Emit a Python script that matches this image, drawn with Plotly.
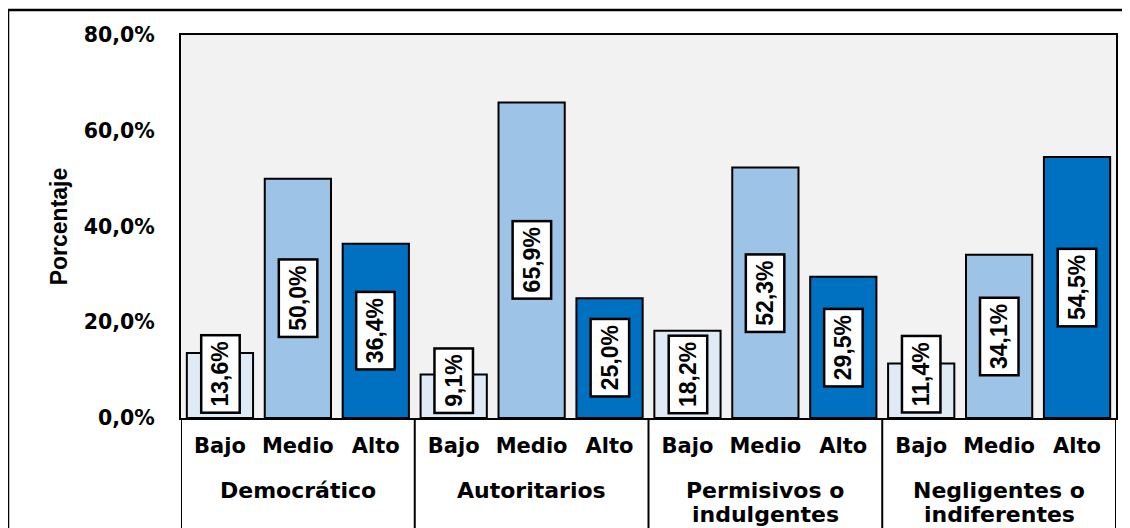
import plotly.graph_objects as go

groups = ["Democrático", "Autoritarios", "Permisivos o<br>indulgentes", "Negligentes o<br>indiferentes"]
levels = ["Bajo", "Medio", "Alto"]
bajo = [13.6, 9.1, 18.2, 11.4]
medio = [50.0, 65.9, 52.3, 34.1]
alto = [36.4, 25.0, 29.5, 54.5]
y_tickvals = [0, 20, 40, 60, 80]
y_ticktext = ["0,0%", "20,0%", "40,0%", "60,0%", "80,0%"]
level_colors = ["#DEEBF7", "#9DC3E6", "#0070C0"]

# page body has an 8px offset; figure sized to fill the 1130x528 window
OFF = 8
W, H = 1130 - OFF, 528 - OFF
L, R, T = 181 - OFF, 14, 35 - OFF
AX = 418 - OFF            # y pixel of x axis in figure coords
B = H - AX
PH = AX - T

WIDE = "DejaVu Sans, Verdana, sans-serif"
LAB = "Liberation Sans, Arial, sans-serif"

series = [bajo, medio, alto]
keys, vals, cols, ticktext = [], [], [], []
for gi, g in enumerate(groups):
    for li, lv in enumerate(levels):
        keys.append(f"{gi}-{lv}")
        vals.append(series[li][gi])
        cols.append(level_colors[li])
        ticktext.append(lv)

fig = go.Figure()
fig.add_trace(go.Bar(
    x=keys, y=vals,
    marker=dict(color=cols, line=dict(color="black", width=2)),
    hoverinfo="skip", showlegend=False,
))

annotations = []
for k, v in zip(keys, vals):
    txt = f"{v:.1f}%".replace(".", ",")
    small = v < 20
    annotations.append(dict(
        x=k, y=0 if small else v / 2, xref="x", yref="y",
        yanchor="bottom" if small else "middle", yshift=4 if small else 0,
        text=txt, textangle=-90, showarrow=False,
        font=dict(family=LAB, size=23, color="black", weight="bold"),
        bgcolor="white", bordercolor="black", borderwidth=2.5, borderpad=5,
    ))

# group labels
for gi, g in enumerate(groups):
    for i, line in enumerate(g.split("<br>")):
        annotations.append(dict(
            x=f"{gi}-Medio", xref="x", y=-(476 - 418) / PH, yref="paper",
            yanchor="top", yshift=-24 * i, text=line, showarrow=False,
            font=dict(family=WIDE, size=22, color="black", weight="bold"),
        ))

shapes = [
    dict(type="rect", xref="paper", yref="paper",
         x0=(8 - OFF - L) / (W - L - R), x1=1.3, y0=-0.6, y1=(AX - (10 - OFF)) / PH,
         line=dict(color="black", width=2.5), fillcolor="rgba(0,0,0,0)", layer="above"),
]
for b in [-0.5, 2.5, 5.5, 8.5, 11.5]:
    shapes.append(dict(type="line", xref="x", yref="paper", x0=b, x1=b, y0=0, y1=-0.4,
                       line=dict(color="black", width=2)))

fig.update_layout(
    width=W, height=H,
    margin=dict(l=L, r=R, t=T, b=B),
    plot_bgcolor="#F2F2F2", paper_bgcolor="white",
    bargap=0.15,
    separators=",.",
    annotations=annotations,
    shapes=shapes,
    xaxis=dict(
        type="category", range=[-0.5, 11.5],
        tickvals=keys, ticktext=ticktext,
        tickfont=dict(family=WIDE, size=21, color="black", weight="bold"),
        showline=True, linecolor="black", linewidth=2, mirror=True,
        ticks="outside", ticklen=8, tickcolor="rgba(0,0,0,0)",
        showgrid=False,
    ),
    yaxis=dict(
        range=[0, 80], tickvals=y_tickvals, ticktext=y_ticktext,
        tickfont=dict(family=WIDE, size=20.5, color="black", weight="bold"),
        showline=True, linecolor="black", linewidth=2, mirror=True,
        showgrid=False, zeroline=False, ticks="", ticklabelstandoff=20,
        title=dict(text="Porcentaje", standoff=10,
                   font=dict(family=LAB, size=23, color="black", weight="bold")),
    ),
)

fig.write_html("out.html")
